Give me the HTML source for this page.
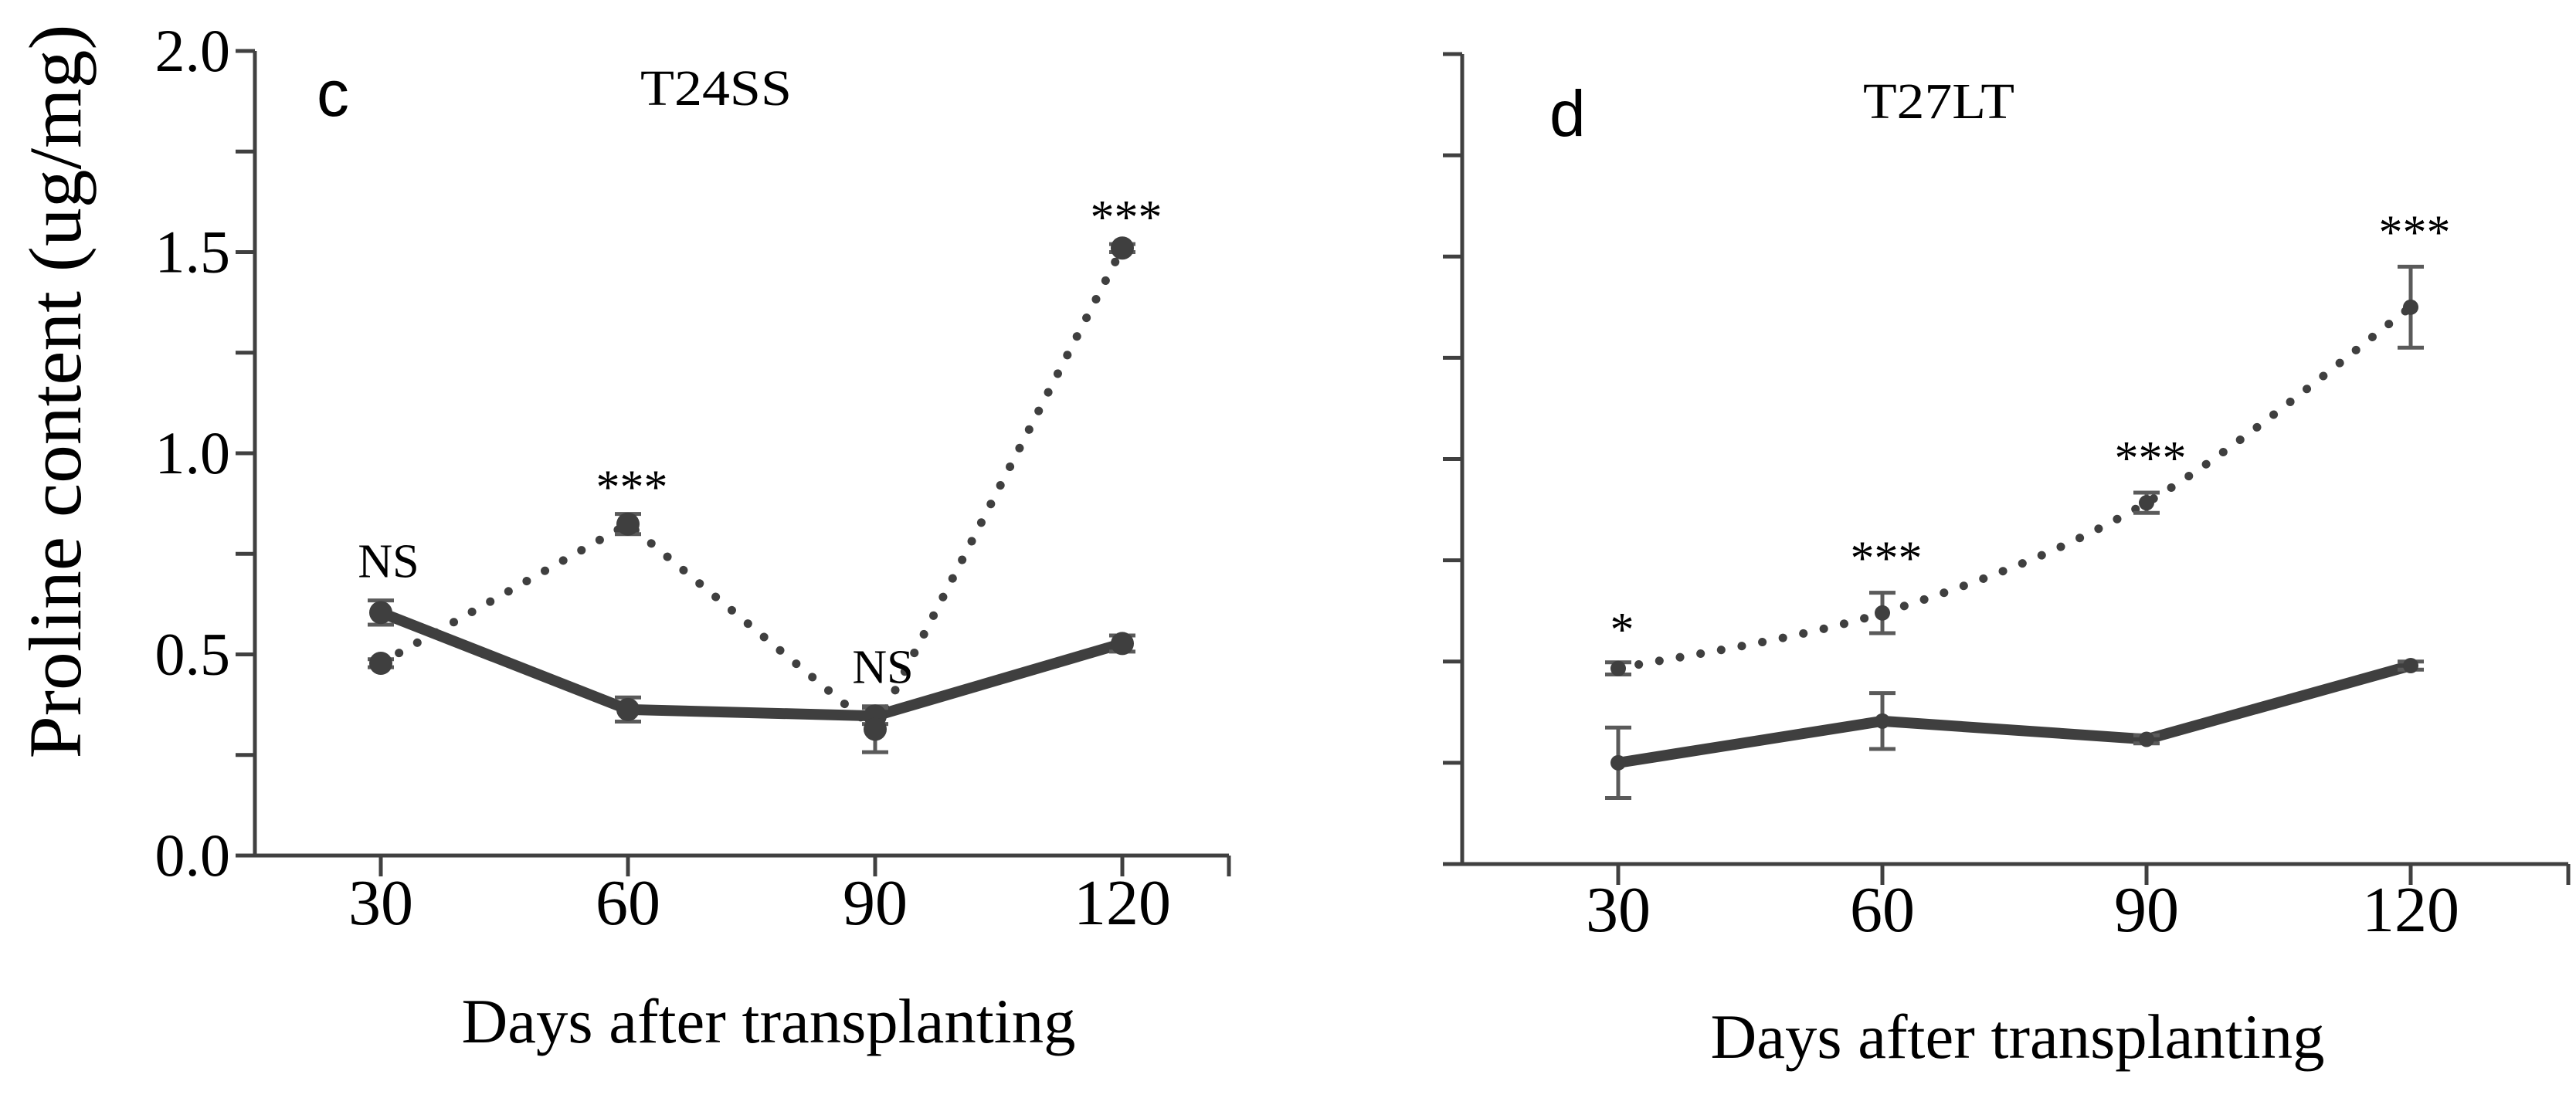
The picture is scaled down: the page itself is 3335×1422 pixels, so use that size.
<!DOCTYPE html>
<html><head><meta charset="utf-8">
<style>
html,body{margin:0;padding:0;background:#fff;overflow:hidden;}
svg{display:block;}
text{font-family:"Liberation Serif",serif;fill:#000;}
</style></head>
<body>
<svg id="chart" width="3335" height="1422" viewBox="0 0 3335 1422" xmlns="http://www.w3.org/2000/svg"></svg>
<script>
const categories = [30, 60, 90, 120];
const yTicks = ["0.0", "", "0.5", "", "1.0", "", "1.5", "", "2.0"];
const cSolid = [0.604, 0.363, 0.347, 0.527];
const cSolidErr = [0.03, 0.03, 0.02, 0.02];
const cDotted = [0.478, 0.824, 0.314, 1.51];
const cDottedErr = [0.01, 0.025, 0.057, 0.01];
const cSig = ["NS", "***", "NS", "***"];
const dSolid = [0.25, 0.353, 0.308, 0.49];
const dSolidErr = [0.087, 0.069, 0.01, 0.01];
const dDotted = [0.483, 0.62, 0.892, 1.375];
const dDottedErr = [0.015, 0.05, 0.025, 0.1];
const dSig = ["*", "***", "***", "***"];

const svg = document.getElementById('chart');
const NS = 'http://www.w3.org/2000/svg';
function mk(tag, attrs, parent) {
  const e = document.createElementNS(NS, tag);
  for (const k in attrs) e.setAttribute(k, attrs[k]);
  (parent || svg).appendChild(e);
  return e;
}

function panel(o) {
  const g = mk('g', {});
  
  
  const y = v => o.y0 - (v / 2.0) * (o.y0 - o.yTop);
  const x = i => o.x30 + i * o.dx;
  const axisColor = '#404040';
  const ya = mk('line', {x1:o.ax, y1:o.yTop, x2:o.ax, y2:o.y0, stroke:axisColor, 'stroke-width':5}, g);
  
  
  for (let i = 0; i < yTicks.length; i++) {
    const v = i * 0.25;
    const t = mk('line', {x1:o.ax - 25, y1:y(v), x2:o.ax, y2:y(v), stroke:axisColor, 'stroke-width':5}, g);
    
    
    if (o.labels && yTicks[i]) {
      const tl = mk('text', {x:o.ax - 32, y:y(v) + 26, 'font-size':78, 'text-anchor':'end'}, g);
      tl.textContent = yTicks[i];
      
      
    }
  }
  const xa = mk('line', {x1:o.ax - 25, y1:o.y0, x2:o.xEnd, y2:o.y0, stroke:axisColor, 'stroke-width':5}, g);
  
  
  const et = mk('line', {x1:o.xEnd, y1:o.y0, x2:o.xEnd, y2:o.y0 + 27, stroke:axisColor, 'stroke-width':5}, g);
  
  
  categories.forEach((c, i) => {
    const t = mk('line', {x1:x(i), y1:o.y0, x2:x(i), y2:o.y0 + 27, stroke:axisColor, 'stroke-width':5}, g);
    
    
    const tl = mk('text', {x:x(i), y:o.tickY, 'font-size':84, 'text-anchor':'middle'}, g);
    tl.textContent = c;
    
    
  });
  const xt = mk('text', {x:o.titleX, y:o.titleY, 'font-size':82, 'text-anchor':'middle', textLength:795, lengthAdjust:'spacingAndGlyphs'}, g);
  xt.textContent = 'Days after transplanting';
  
  
  const pl = mk('text', {x:o.letterX, y:o.letterY, 'font-size':84, style:'font-family:"Liberation Sans",sans-serif'}, g);
  pl.textContent = o.letter;
  
  
  const pt = mk('text', {x:o.headX, y:o.headY, 'font-size':66, 'text-anchor':'middle', textLength:196, lengthAdjust:'spacingAndGlyphs'}, g);
  pt.textContent = o.head;
  
  

  const lineCol = '#3f3f3f', errCol = '#5a5a5a';
  let d;
  if (o.smooth) {
    const P = o.dotted.map((v, i) => [x(i), y(v)]);
    d = 'M' + P[0][0] + ',' + P[0][1];
    for (let i = 0; i < P.length - 1; i++) {
      const p0 = P[Math.max(0, i - 1)], p1 = P[i], p2 = P[i + 1], p3 = P[Math.min(P.length - 1, i + 2)];
      const c1 = [p1[0] + (p2[0] - p0[0]) / 6, p1[1] + (p2[1] - p0[1]) / 6];
      const c2 = [p2[0] - (p3[0] - p1[0]) / 6, p2[1] - (p3[1] - p1[1]) / 6];
      d += ' C' + c1 + ' ' + c2 + ' ' + p2;
    }
  } else {
    d = o.dotted.map((v, i) => (i ? 'L' : 'M') + x(i) + ',' + y(v)).join(' ');
  }
  const dl = mk('path', {d:d, fill:'none', stroke:lineCol, 'stroke-width':11, 'stroke-linecap':'round', 'stroke-dasharray':'0.1 27'}, g);
  
  
  const sd = o.solid.map((v, i) => (i ? 'L' : 'M') + x(i) + ',' + y(v)).join(' ');
  const sl = mk('path', {d:sd, fill:'none', stroke:lineCol, 'stroke-width':14, 'stroke-linejoin':'round'}, g);
  
  
  function errs(vals, es, name) {
    vals.forEach((v, i) => {
      const hi = y(v + es[i]), lo = y(v - es[i]), cx = x(i);
      const p = mk('path', {d:`M${cx-17},${hi} H${cx+17} M${cx},${hi} V${lo} M${cx-17},${lo} H${cx+17}`, stroke:errCol, 'stroke-width':5, fill:'none'}, g);
      
      
    });
  }
  function pts(vals, name) {
    vals.forEach((v, i) => {
      const c = mk('circle', {cx:x(i), cy:y(v), r:o.r, fill:lineCol}, g);
      
      
    });
  }
  errs(o.solid, o.solidErr, 'solid');
  errs(o.dotted, o.dottedErr, 'dotted');
  pts(o.solid, 'solid');
  pts(o.dotted, 'dotted');
  o.sig.forEach((s, i) => {
    const base = Math.max(o.dotted[i] + o.dottedErr[i], o.solid[i] + o.solidErr[i]);
    const isNS = s === 'NS';
    const off = isNS ? 30 : (s === '*' ? 22 : o.starOff);
    const t = mk('text', {x:x(i) + (isNS ? 10 : 5), y:y(base) - off, 'font-size':62, 'text-anchor':'middle'}, g);
    t.textContent = s;
    
    
  });
}

panel({name:'panel-c', ax:330, yTop:66, y0:1108, xEnd:1591, x30:493, dx:320, labels:true,
  tickY:1197, titleX:995, titleY:1350, letter:'c', letterX:410, letterY:150, head:'T24SS', headX:927, headY:136,
  r:15, smooth:false, starOff:14,
  solid:cSolid, solidErr:cSolidErr, dotted:cDotted, dottedErr:cDottedErr, sig:cSig});
panel({name:'panel-d', ax:1893, yTop:70, y0:1119, xEnd:3325, x30:2095, dx:342, labels:false,
  tickY:1206, titleX:2612, titleY:1370, letter:'d', letterX:2006, letterY:176, head:'T27LT', headX:2510, headY:153,
  r:10, smooth:true, starOff:24,
  solid:dSolid, solidErr:dSolidErr, dotted:dDotted, dottedErr:dDottedErr, sig:dSig});

const yt = document.createElementNS(NS, 'text');
yt.setAttribute('x', 0); yt.setAttribute('y', 0);
yt.setAttribute('font-size', 96);
yt.setAttribute('text-anchor', 'middle');
yt.setAttribute('textLength', 951);
yt.setAttribute('lengthAdjust', 'spacingAndGlyphs');
yt.setAttribute('transform', 'translate(104,507) rotate(-90)');
yt.textContent = 'Proline content (ug/mg)';


svg.appendChild(yt);
</script>
</body></html>
